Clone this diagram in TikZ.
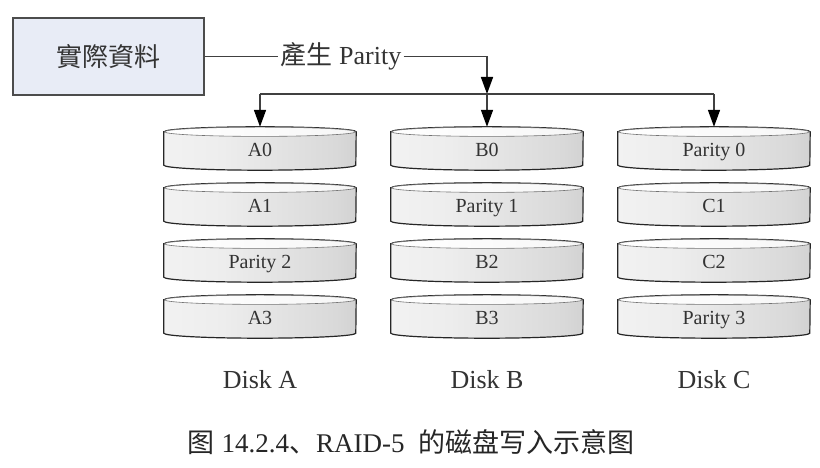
\documentclass[tikz,border=0pt]{standalone}
\usepackage{fontspec}
\setmainfont{Liberation Serif}
\newfontfamily\cjktc{Noto Sans CJK TC}
\newfontfamily\cjksc{Noto Sans CJK SC}
\usetikzlibrary{arrows.meta,backgrounds}
\definecolor{boxfill}{HTML}{E8ECF6}
\definecolor{linecol}{HTML}{404040}
\definecolor{txtcol}{HTML}{333333}
\pgfdeclarehorizontalshading{diskshade}{100bp}{color(0bp)=(gray!28); color(12bp)=(gray!7); color(40bp)=(gray!14); color(70bp)=(gray!30); color(90bp)=(gray!50); color(100bp)=(gray!36)}
\pgfdeclarehorizontalshading{topshade}{100bp}{color(0bp)=(gray!10); color(25bp)=(white); color(70bp)=(gray!6); color(100bp)=(gray!22)}
\tikzset{
  srcbox/.style={draw=gray!60!black, line width=1.5pt, fill=boxfill, minimum width=191pt, minimum height=77pt, inner sep=0pt, text=txtcol, font=\cjktc\fontsize{26}{30}\selectfont},
  disk/.style={minimum width=192pt, minimum height=43pt, inner sep=0pt, text height=17pt, text depth=1pt, text=txtcol, font=\fontsize{20}{24}\selectfont},
  diskbody/.style={draw=black!85, line width=1.2pt, shading=diskshade},
  disktop/.style={draw=black!55, line width=0.6pt, shading=topshade},
  conn/.style={draw=linecol, line width=1.6pt},
  arr/.style={conn, -{Triangle[length=17pt,width=12pt,color=black]}},
  disklbl/.style={text=txtcol, font=\fontsize{26}{30}\selectfont},
}
\newcommand\drawdisk[1]{%
  \path[diskbody] ([yshift=-5pt]#1.north west) -- ([yshift=5pt]#1.south west)
     arc[start angle=180,end angle=360,x radius=96pt,y radius=5pt]
     -- ([yshift=-5pt]#1.north east)
     arc[start angle=0,end angle=180,x radius=96pt,y radius=5pt] -- cycle;
  \path[disktop] ([yshift=-5pt]#1.north) ellipse[x radius=95.4pt,y radius=4.6pt];
}
\begin{document}
\begin{tikzpicture}[x=1pt,y=1pt]
\useasboundingbox (0,0) rectangle (820,468);

% source box
\node[srcbox] (src) at (108.5,411.5) {實際資料};

% label
\node[fill=white, inner sep=2pt, text=txtcol, font=\fontsize{26}{30}\selectfont] (lbl) at (341,411.5) {{\cjktc 產生} Parity};

% disks
\foreach \nm/\x/\y/\t in {
  A0/260/319.5/A0, A1/260/263.5/A1, P2/260/207.5/Parity 2, A3/260/151.5/A3,
  B0/487/319.5/B0, P1/487/263.5/Parity 1, B2/487/207.5/B2, B3/487/151.5/B3,
  P0/714/319.5/Parity 0, C1/714/263.5/C1, C2/714/207.5/C2, P3/714/151.5/Parity 3}
  {\node[disk] (\nm) at (\x,\y) {\t};}

\begin{scope}[on background layer]
\fill[white] (0,0) rectangle (820,468);
\foreach \nm in {A0,A1,P2,A3,B0,P1,B2,B3,P0,C1,C2,P3} {\drawdisk{\nm}}
\end{scope}

% connectors
\coordinate (split) at (487,374);
\coordinate (left) at (260,374);
\coordinate (right) at (714,374);
\draw[conn] (src.east) -- (lbl.west);
\draw[arr] (lbl.east) -| (split);
\draw[conn] (left) -- (right);
\draw[arr] (left) -- (A0.north);
\draw[arr] (split) -- (B0.north);
\draw[arr] (right) -- (P0.north);

% disk labels
\node[disklbl] (dA) at (260,88) {Disk A};
\node[disklbl] (dB) at (487,88) {Disk B};
\node[disklbl] (dC) at (714,88) {Disk C};

% caption
\node[text=black!85, font=\fontsize{27}{32}\selectfont] (cap) at (411,26) {{\cjksc 图} 14.2.4{\cjksc 、}RAID-5\ \ {\cjksc 的磁盘写入示意图}};
\end{tikzpicture}
\end{document}
